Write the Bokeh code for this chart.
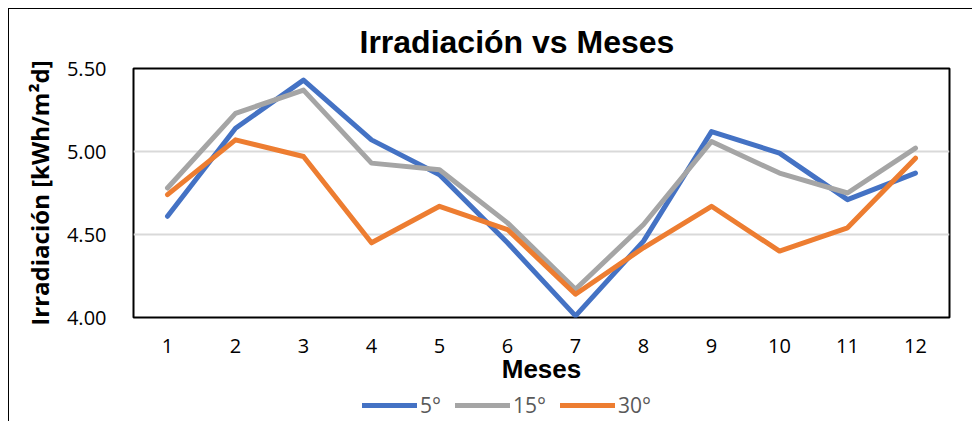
from bokeh.plotting import figure
from bokeh.layouts import column
from bokeh.models import Legend, LegendItem, Range1d, FixedTicker, CustomJSTickFormatter
from bokeh.embed import file_html
from bokeh.resources import INLINE

months = [1, 2, 3, 4, 5, 6, 7, 8, 9, 10, 11, 12]
s5 = [4.61, 5.14, 5.43, 5.07, 4.86, 4.45, 4.01, 4.46, 5.12, 4.99, 4.71, 4.87]
s15 = [4.78, 5.23, 5.37, 4.93, 4.89, 4.57, 4.17, 4.56, 5.06, 4.87, 4.75, 5.02]
s30 = [4.74, 5.07, 4.97, 4.45, 4.67, 4.53, 4.14, 4.42, 4.67, 4.40, 4.54, 4.96]
series_names = ["5°", "15°", "30°"]
colors = ["#4472C4", "#A5A5A5", "#ED7D31"]
y_ticks = [4.0, 4.5, 5.0, 5.5]
all_series = [s5, s15, s30]

p = figure(width=963, height=382, output_backend="svg", toolbar_location=None,
           x_range=Range1d(0.5, 12.5), y_range=Range1d(4.0, 5.5),
           min_border_left=124, min_border_right=23, min_border_top=59, min_border_bottom=74)

p.outline_line_color = "black"
p.outline_line_width = 2
p.xgrid.grid_line_color = None
p.ygrid.grid_line_color = "#D9D9D9"
p.ygrid.grid_line_width = 2
p.yaxis.ticker = FixedTicker(ticks=y_ticks)
p.xaxis.ticker = FixedTicker(ticks=months)
p.yaxis.formatter = CustomJSTickFormatter(code="return tick.toFixed(2);")

for ax in (p.xaxis, p.yaxis):
    ax.axis_line_color = None
    ax.major_tick_line_color = None
    ax.minor_tick_line_color = None
    ax.major_label_text_font = "Open Sans"
    ax.major_label_text_font_size = "20px"
    ax.major_label_text_color = "black"
    ax.axis_label_text_font_style = "bold"
    ax.axis_label_text_color = "black"

p.xaxis.major_label_standoff = 15
p.yaxis.major_label_standoff = 21
p.xaxis.axis_label = "Meses"
p.xaxis.axis_label_text_font = "Liberation Sans"
p.xaxis.axis_label_text_font_size = "26px"
p.xaxis.axis_label_standoff = -2
p.yaxis.axis_label = "Irradiación [kWh/m²d]"
p.yaxis.axis_label_text_font = "Open Sans"
p.yaxis.axis_label_text_font_size = "24px"
p.yaxis.axis_label_standoff = 8

for ys, c in zip(all_series, colors):
    p.line(months, ys, line_color=c, line_width=5, line_cap="round", line_join="round")

p.title.text = "Irradiación vs Meses"
p.title.text_font = "Liberation Sans"
p.title.text_font_size = "32px"
p.title.text_font_style = "bold"
p.title.text_color = "black"
p.title.align = "left"
p.title.offset = 226
p.title.standoff = 18

# legend strip below the chart (its series lie outside this strip's y range, so only the legend shows)
lg = figure(width=963, height=30, output_backend="svg", toolbar_location=None,
            x_range=Range1d(0.5, 12.5), y_range=Range1d(0, 1),
            min_border_left=0, min_border_right=0, min_border_top=0, min_border_bottom=0)
lg.axis.visible = False
lg.grid.grid_line_color = None
lg.outline_line_color = None
items = []
for name, ys, c in zip(series_names, all_series, colors):
    d = lg.line(months, ys, line_color=c, line_width=5, line_cap="round")
    items.append(LegendItem(label=name, renderers=[d]))
legend = Legend(items=items, orientation="horizontal", location=(229, 2),
                label_text_font="Open Sans", label_text_font_size="21px",
                label_text_color="#595959", glyph_width=55, glyph_height=14,
                spacing=14, label_standoff=3, padding=0, margin=0,
                border_line_color=None, background_fill_alpha=0)
lg.add_layout(legend)

layout = column(p, lg, spacing=0)
layout.styles = {"margin-left": "8px", "margin-top": "8px",
                 "border-top": "1px solid black", "border-left": "1px solid black"}

open("out.html", "w").write(file_html(layout, INLINE))
